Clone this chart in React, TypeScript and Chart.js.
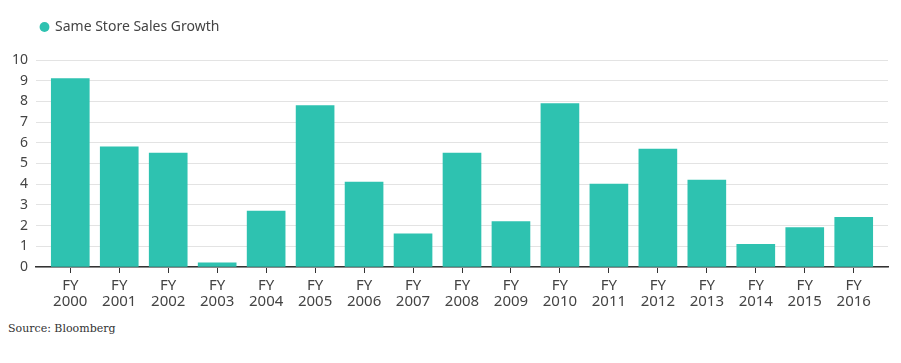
import React, { useEffect, useRef } from "react";
import { Chart, registerables } from "chart.js";

Chart.register(...registerables);

const categories = ["2000", "2001", "2002", "2003", "2004", "2005", "2006", "2007", "2008", "2009", "2010", "2011", "2012", "2013", "2014", "2015", "2016"];
const growth = [9.1, 5.8, 5.5, 0.2, 2.7, 7.8, 4.1, 1.6, 5.5, 2.2, 7.9, 4.0, 5.7, 4.2, 1.1, 1.9, 2.4];
const yTicks = [0, 1, 2, 3, 4, 5, 6, 7, 8, 9, 10];
const seriesName = "Same Store Sales Growth";
const sourceText = "Source: Bloomberg";

const BAR = "rgb(46,194,176)";
const FONT = "'Noto Sans', 'Open Sans', sans-serif";

const legendTweak = {
  id: "legendTweak",
  beforeInit(chart: any) {
    const lg = chart.legend;
    if (lg) {
      const fit = lg.fit;
      lg.fit = function () {
        fit.call(this);
        this.height += 16;
      };
    }
  },
  afterLayout(chart: any) {
    if (chart.legend) {
      chart.legend.left += 23;
    }
  },
};

export default function App() {
  const ref = useRef<HTMLCanvasElement | null>(null);
  useEffect(() => {
    if (!ref.current) return;
    const chart = new Chart(ref.current, {
      type: "bar",
      data: {
        datasets: [
          {
            label: seriesName,
            data: growth.map((v, i) => ({ x: i, y: v })),
            backgroundColor: BAR,
            borderWidth: 0,
            barThickness: 38,
          },
        ],
      },
      plugins: [legendTweak],
      options: {
        animation: false,
        responsive: true,
        maintainAspectRatio: false,
        layout: { padding: { left: 0, right: 5, top: 2, bottom: 0 } },
        plugins: {
          legend: {
            position: "top",
            align: "start",
            labels: {
              usePointStyle: true,
              pointStyle: "circle",
              boxWidth: 7,
              boxHeight: 7,
              color: "#444",
              font: { family: FONT, size: 14 },
              padding: 10,
            },
          },
          tooltip: { enabled: false },
        },
        scales: {
          x: {
            type: "linear",
            offset: false,
            min: -0.7,
            max: categories.length - 0.3,
            afterBuildTicks: (scale: any) => {
              scale.ticks = categories.map((_, i) => ({ value: i }));
            },
            afterFit: (scale: any) => {
              scale.height = 46;
            },
            ticks: {
              autoSkip: false,
              maxRotation: 0,
              color: "#444",
              font: { family: FONT, size: 15, lineHeight: 1.05 },
              padding: 5,
              callback: (v: any) => {
                const i = Math.round(Number(v));
                return categories[i] !== undefined ? ["FY", categories[i]] : "";
              },
            },
            grid: {
              display: true,
              offset: false,
              drawOnChartArea: false,
              drawTicks: true,
              tickLength: 6,
              color: "#333",
            },
            border: { display: true, color: "#333", width: 1.5 },
          },
          y: {
            min: 0,
            max: 10,
            afterBuildTicks: (scale: any) => {
              scale.ticks = yTicks.map((v) => ({ value: v }));
            },
            afterFit: (scale: any) => {
              scale.width = 28;
            },
            ticks: {
              color: "#444",
              font: { family: FONT, size: 14 },
              padding: 8,
            },
            grid: { color: "#e3e3e3", drawTicks: false },
            border: { display: false },
          },
        },
      },
    });
    return () => chart.destroy();
  }, []);

  return (
    <div style={{ width: 885, height: 347, position: "relative" }}>
      <div style={{ width: 885, height: 305, position: "relative" }}>
        <canvas ref={ref} />
      </div>
      <div
        style={{
          fontFamily: "'DejaVu Serif', 'Liberation Serif', serif",
          fontSize: 11,
          color: "#333",
          marginTop: 9,
        }}
      >
        {sourceText}
      </div>
    </div>
  );
}
